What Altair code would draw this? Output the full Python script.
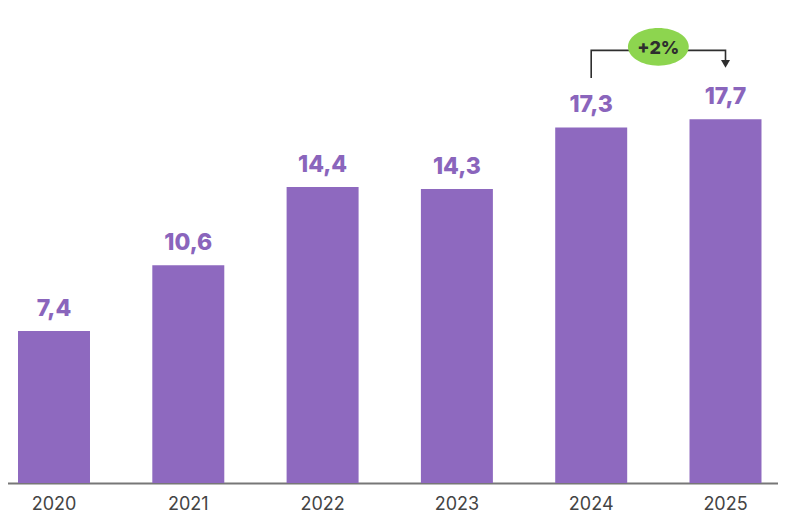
import pandas as pd
import altair as alt

# values
years = ["2020", "2021", "2022", "2023", "2024", "2025"]
values = [7.4, 10.6, 14.4, 14.3, 17.3, 17.7]
value_labels = ["7,4", "10,6", "14,4", "14,3", "17,3", "17,7"]

# growth annotation between the last two years
change_from = "2024"
change_to = "2025"
change_label = "+2%"

BAR_COLOR = "#8E69BF"
LABEL_COLOR = "#8A65BC"
BADGE_COLOR = "#8DD54F"
INK = "#2E2E2E"
FONT = "Inter"

# plot area: 770 wide (page margin of 8px), baseline 475px below the top
Y_MAX = 23.11
BRACKET_TOP = 21.05
BRACKET_LEFT_END = 19.71
BRACKET_RIGHT_END = 20.39
BADGE_LEVEL = 21.22
STEP = 134.3

bars_df = pd.DataFrame({"Year": years, "Value": values, "Label": value_labels})

bracket_df = pd.DataFrame(
    {
        "Year": [change_from, change_from, change_to, change_to],
        "Value": [BRACKET_LEFT_END, BRACKET_TOP, BRACKET_TOP, BRACKET_RIGHT_END],
        "Order": [0, 1, 2, 3],
    }
)
arrow_df = pd.DataFrame({"Year": [change_to], "Value": [BRACKET_RIGHT_END]})
badge_df = pd.DataFrame({"Year": [change_from], "Value": [BADGE_LEVEL], "Label": [change_label]})

x_scale = alt.Scale(
    domain=years,
    range=[46 - STEP / 2, 46 + STEP * 5.5],
    paddingInner=0.464,
    paddingOuter=0.232,
)
y_scale = alt.Scale(domain=[0, Y_MAX], nice=False, zero=True)

x_enc = alt.X(
    "Year:N",
    scale=x_scale,
    sort=years,
    title=None,
    axis=alt.Axis(
        labelAngle=0,
        ticks=False,
        grid=False,
        domainColor="#777777",
        domainWidth=2,
        labelFont=FONT,
        labelFontSize=18,
        labelColor="#444444",
        labelPadding=12,
    ),
)
y_enc = alt.Y("Value:Q", scale=y_scale, axis=None)

bars = alt.Chart(bars_df).mark_bar(color=BAR_COLOR).encode(x=x_enc, y=y_enc)

labels = (
    alt.Chart(bars_df)
    .mark_text(
        font=FONT,
        fontSize=23,
        fontWeight=800,
        color=LABEL_COLOR,
        baseline="alphabetic",
        dy=-15,
    )
    .encode(x=alt.X("Year:N", sort=years), y="Value:Q", text="Label:N")
)

bracket = (
    alt.Chart(bracket_df)
    .mark_line(color=INK, strokeWidth=1.6)
    .encode(x=alt.X("Year:N", sort=years), y="Value:Q", order="Order:Q")
)

arrow = (
    alt.Chart(arrow_df)
    .mark_point(shape="triangle-down", filled=True, size=81, color=INK, opacity=1)
    .encode(x=alt.X("Year:N", sort=years), y="Value:Q")
)

badge = (
    alt.Chart(badge_df)
    .mark_point(
        shape="M-1,0A1,0.62,0,1,1,1,0A1,0.62,0,1,1,-1,0Z",
        filled=True,
        size=3700,
        color=BADGE_COLOR,
        opacity=1,
        strokeWidth=0,
        xOffset=STEP / 2,
    )
    .encode(x=alt.X("Year:N", sort=years), y="Value:Q")
)

badge_text = (
    alt.Chart(badge_df)
    .mark_text(
        font=FONT,
        fontSize=18,
        fontWeight=800,
        color=INK,
        baseline="middle",
        dy=2,
        dx=STEP / 2,
    )
    .encode(x=alt.X("Year:N", sort=years), y="Value:Q", text="Label:N")
)

chart = (
    alt.layer(bars, labels, bracket, arrow, badge, badge_text)
    .properties(
        width=770,
        height=475,
        autosize=alt.AutoSizeParams(type="none"),
        padding={"left": 0, "top": 0, "right": 0, "bottom": 30},
        background="white",
    )
    .configure_view(stroke=None)
)

chart.save("out.html", embed_options={"renderer": "svg", "actions": False})
